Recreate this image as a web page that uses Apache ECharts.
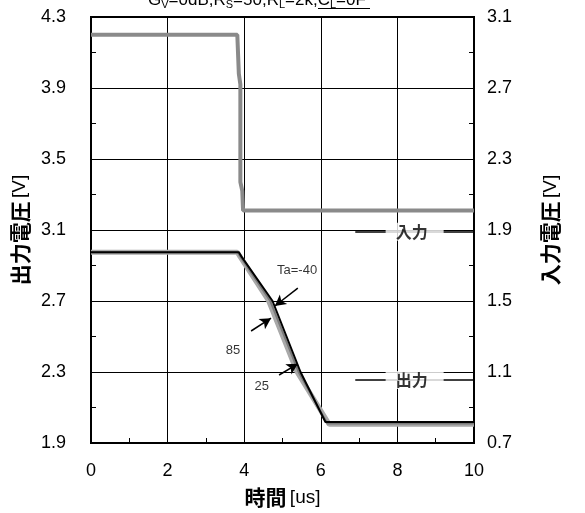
<!DOCTYPE html>
<html><head><meta charset="utf-8">
<script src="https://cdn.jsdelivr.net/npm/echarts@6/dist/echarts.min.js"></script>
<style>html,body{margin:0;padding:0;background:#fff}#c{width:585px;height:513px}</style>
</head><body><div id="c"></div>
<script>
// time [us]
var inputTime   = [0, 3.82, 3.86, 3.90, 3.90, 3.95, 3.97, 10];
var inputVolt   = [3.0, 3.0, 2.78, 2.72, 2.17, 2.12, 2.01, 2.01];
var outTimeM40  = [0, 3.86, 3.93, 4.74, 5.47, 6.12, 10];
var outVoltM40  = [2.975, 2.975, 2.95, 2.70, 2.30, 2.018, 2.018];
var outTime85   = [0, 3.83, 3.90, 4.68, 5.42, 6.17, 10];
var outVolt85   = [2.975, 2.975, 2.95, 2.70, 2.30, 2.01, 2.01];
var outTime25   = [0, 3.82, 3.89, 4.64, 5.38, 6.22, 10];
var outVolt25   = [2.975, 2.975, 2.95, 2.70, 2.30, 2.005, 2.005];
var xTicks = [0, 2, 4, 6, 8, 10];
var leftTicks = [1.9, 2.3, 2.7, 3.1, 3.5, 3.9, 4.3];
var rightTicks = [0.7, 1.1, 1.5, 1.9, 2.3, 2.7, 3.1];
var tempLabels = ['Ta=-40', '85', '25'];
var sigLabels = ['入力', '出力'];

function zip(a, b) { return a.map(function (v, i) { return [v, b[i]]; }); }

var chart = echarts.init(document.getElementById('c'));
var lat = 'Liberation Sans, Arial, sans-serif';
var cjk = 'Noto Sans CJK JP';
var arrowStyle = { color: '#000', width: 1.5, type: 'solid' };
var nameRich = {
  b: { fontFamily: cjk, fontWeight: 'bold', fontSize: 21, color: '#000' },
  n: { fontFamily: lat, fontSize: 19, color: '#000' }
};

chart.setOption({
  animation: false,
  backgroundColor: '#fff',
  graphic: [
    {
      type: 'text', left: 148, top: -8, z: 10,
      style: {
        text: 'G{s|V}=0dB,R{s|S}=50,R{s|L}=2k,C{s|L}=0F',
        font: '17px ' + lat, fill: '#000',
        rich: { s: { fontSize: 11, fontFamily: lat, verticalAlign: 'bottom', padding: [9, 0, 0, 0] } }
      }
    },
    { type: 'line', shape: { x1: 318, y1: 8.5, x2: 370, y2: 8.5 }, style: { stroke: '#000', lineWidth: 1.2 } }
  ],
  grid: { left: 91, right: 111, top: 17, bottom: 70, show: true, borderColor: '#000', borderWidth: 2, backgroundColor: 'transparent' },
  xAxis: {
    type: 'value', min: xTicks[0], max: xTicks[xTicks.length - 1], interval: 2,
    name: '{b|時間} {n|[us]}', nameLocation: 'middle', nameGap: 44,
    nameTextStyle: { rich: nameRich },
    axisLine: { show: true, lineStyle: { color: '#000', width: 2 } },
    axisTick: { show: true, inside: true, length: 5, lineStyle: { color: '#000' } },
    minorTick: { show: true, splitNumber: 2, length: 5, lineStyle: { color: '#000', width: 1 } },
    splitLine: { show: true, lineStyle: { color: '#000', width: 1 } },
    axisLabel: { fontFamily: lat, fontSize: 18, color: '#000', margin: 19 }
  },
  yAxis: [
    {
      type: 'value', min: leftTicks[0], max: leftTicks[leftTicks.length - 1], interval: 0.4,
      name: '{b|出力電圧} {n|[V]}', nameLocation: 'middle', nameGap: 55, nameRotate: 90,
      nameTextStyle: { rich: nameRich },
      axisLine: { show: true, lineStyle: { color: '#000', width: 2 } },
      axisTick: { show: true, inside: true, length: 5, lineStyle: { color: '#000' } },
      minorTick: { show: true, splitNumber: 2, length: 5, lineStyle: { color: '#000', width: 1 } },
      splitLine: { show: true, lineStyle: { color: '#000', width: 1 } },
      axisLabel: { fontFamily: lat, fontSize: 18, color: '#000', margin: 25, formatter: function (v) { return v.toFixed(1); } }
    },
    {
      type: 'value', min: rightTicks[0], max: rightTicks[rightTicks.length - 1], interval: 0.4,
      position: 'right',
      name: '{b|入力電圧} {n|[V]}', nameLocation: 'middle', nameGap: 66, nameRotate: 90,
      nameTextStyle: { rich: nameRich },
      axisLine: { show: true, lineStyle: { color: '#000', width: 2 } },
      axisTick: { show: true, inside: true, length: 5, lineStyle: { color: '#000' } },
      minorTick: { show: true, splitNumber: 2, length: 5, lineStyle: { color: '#000', width: 1 } },
      splitLine: { show: false },
      axisLabel: { fontFamily: lat, fontSize: 18, color: '#000', margin: 13, formatter: function (v) { return v.toFixed(1); } }
    }
  ],
  series: [
    {
      type: 'line', name: 'input', yAxisIndex: 1, data: zip(inputTime, inputVolt),
      symbol: 'none', lineStyle: { color: '#8a8a8a', width: 4 }, z: 3
    },
    {
      type: 'line', name: '25', yAxisIndex: 0, data: zip(outTime25, outVolt25),
      symbol: 'none', lineStyle: { color: '#a9a9a9', width: 5 }, z: 3
    },
    {
      type: 'line', name: '85', yAxisIndex: 0, data: zip(outTime85, outVolt85),
      symbol: 'none', lineStyle: { color: '#7a7a7a', width: 2 }, z: 4
    },
    {
      type: 'line', name: '-40', yAxisIndex: 0, data: zip(outTimeM40, outVoltM40),
      symbol: 'none', lineStyle: { color: '#000', width: 2 }, z: 5,
      markLine: {
        silent: true, symbol: ['none', 'arrow'], symbolSize: [9, 11], lineStyle: arrowStyle,
        label: { show: false },
        data: [
          [{ coord: [5.40, 2.773] }, { coord: [4.80, 2.672] }],
          [{ coord: [4.18, 2.531] }, { coord: [4.70, 2.603] }],
          [{ coord: [4.91, 2.283] }, { coord: [5.40, 2.346] }]
        ]
      }
    },
    {
      type: 'scatter', yAxisIndex: 0, symbolSize: 0, z: 6,
      data: [[5.38, 2.87, tempLabels[0]], [3.71, 2.424, tempLabels[1]], [4.46, 2.221, tempLabels[2]]],
      label: { show: true, position: 'inside', formatter: function (p) { return p.data[2]; }, fontFamily: lat, fontSize: 13, color: '#000' }
    },
    {
      type: 'line', yAxisIndex: 0, data: [], z: 6,
      markLine: {
        silent: true, symbol: ['none', 'none'], lineStyle: { color: '#000', width: 1.5, type: 'solid' },
        label: { show: false },
        data: [
          [{ coord: [6.9, 3.09] }, { coord: [10, 3.09] }],
          [{ coord: [6.9, 2.255] }, { coord: [10, 2.255] }]
        ]
      }
    },
    {
      type: 'scatter', yAxisIndex: 0, symbolSize: 0, z: 8,
      data: [[8.45, 3.09, sigLabels[0]], [8.45, 2.255, sigLabels[1]]],
      label: { show: true, position: 'inside', formatter: function (p) { return p.data[2]; }, fontFamily: cjk, fontWeight: 'bold', fontSize: 16, color: '#000', backgroundColor: '#fff', padding: [1, 16, 1, 10] }
    }
  ]
});
</script></body></html>
